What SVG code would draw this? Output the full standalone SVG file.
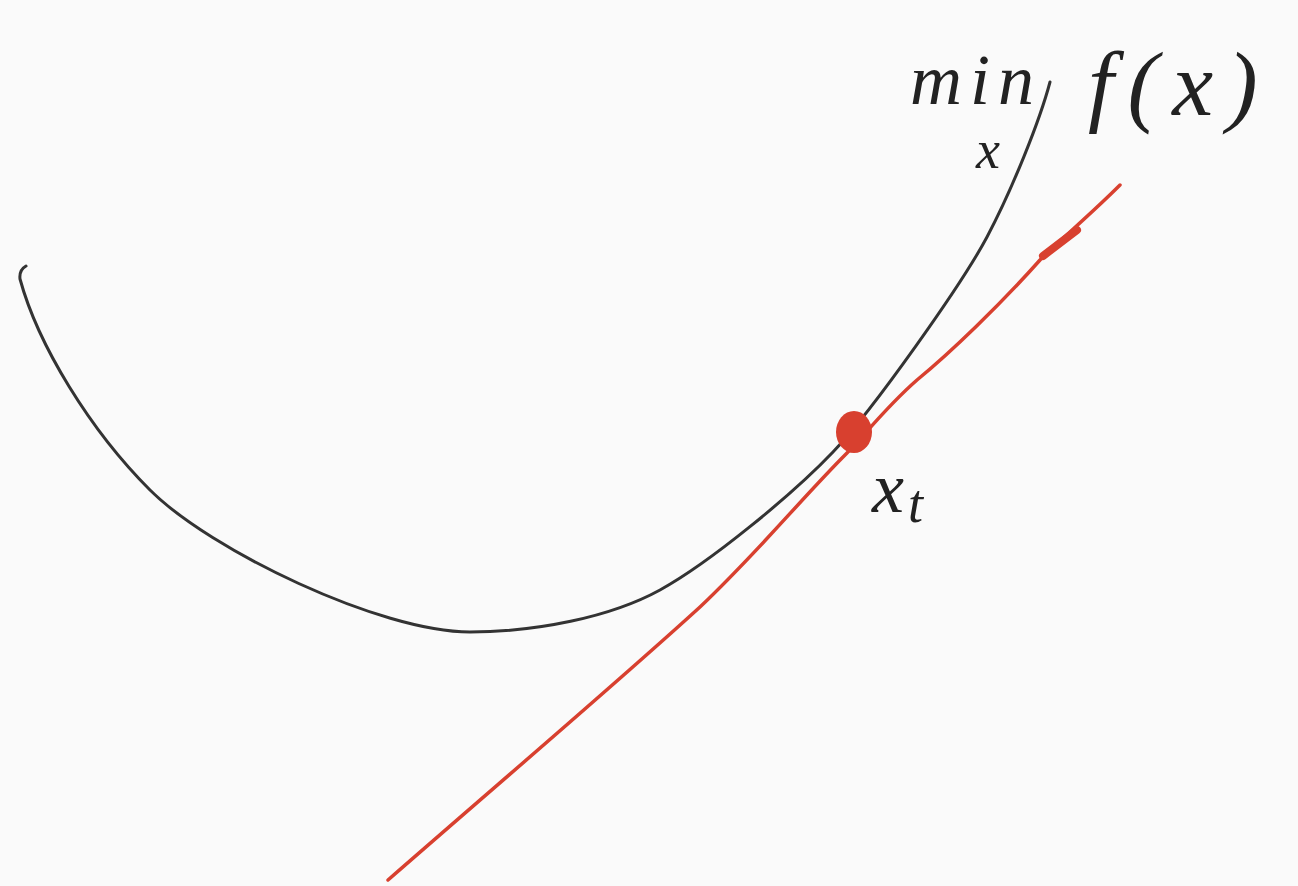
<svg xmlns="http://www.w3.org/2000/svg" width="1298" height="886" viewBox="0 0 1298 886">
<style>
.curve{fill:none;stroke:#333;stroke-width:3;stroke-linecap:round;stroke-linejoin:round}
.tangent{fill:none;stroke:#d8402f;stroke-width:3.5;stroke-linecap:round;stroke-linejoin:round}
.lbl{font-family:"Liberation Serif",serif;font-style:italic;fill:#222}
</style>
<rect width="1298" height="886" fill="#fafafa"/>
<g id="connectors">
<path class="curve" d="M26,266 Q19,270 20,279 C38,345 90,430 150,490 C210,550 380,632 470,632 C535,632 610,617.5 660,590 C710,562.5 793,494 833,452 C873,410 962,284 987,237 C1012,190 1040,120 1050,82"/>
<path class="tangent" d="M388,880 C520,765 620,680 700,607 C760,550 800,500 847,453 C865,435 885,408 917,380 C950,353 1000,305 1040,260 C1060,240 1090,215 1120,185"/>
<path d="M1043,256 L1077,230" stroke="#d8402f" stroke-width="8" stroke-linecap="round" fill="none"/>
</g>
<g id="point-xt">
<ellipse cx="854" cy="432" rx="18" ry="21" fill="#d8402f"/>
<text class="lbl" x="872" y="512" font-size="72">x<tspan font-size="54" dx="4" dy="10">t</tspan></text>
</g>
<g id="objective">
<text class="lbl" x="910" y="104" font-size="72" letter-spacing="8">min</text>
<text class="lbl" x="976" y="168" font-size="54">x</text>
<text class="lbl" x="1088" y="115" font-size="92" letter-spacing="14">f(x)</text>
</g>
</svg>
